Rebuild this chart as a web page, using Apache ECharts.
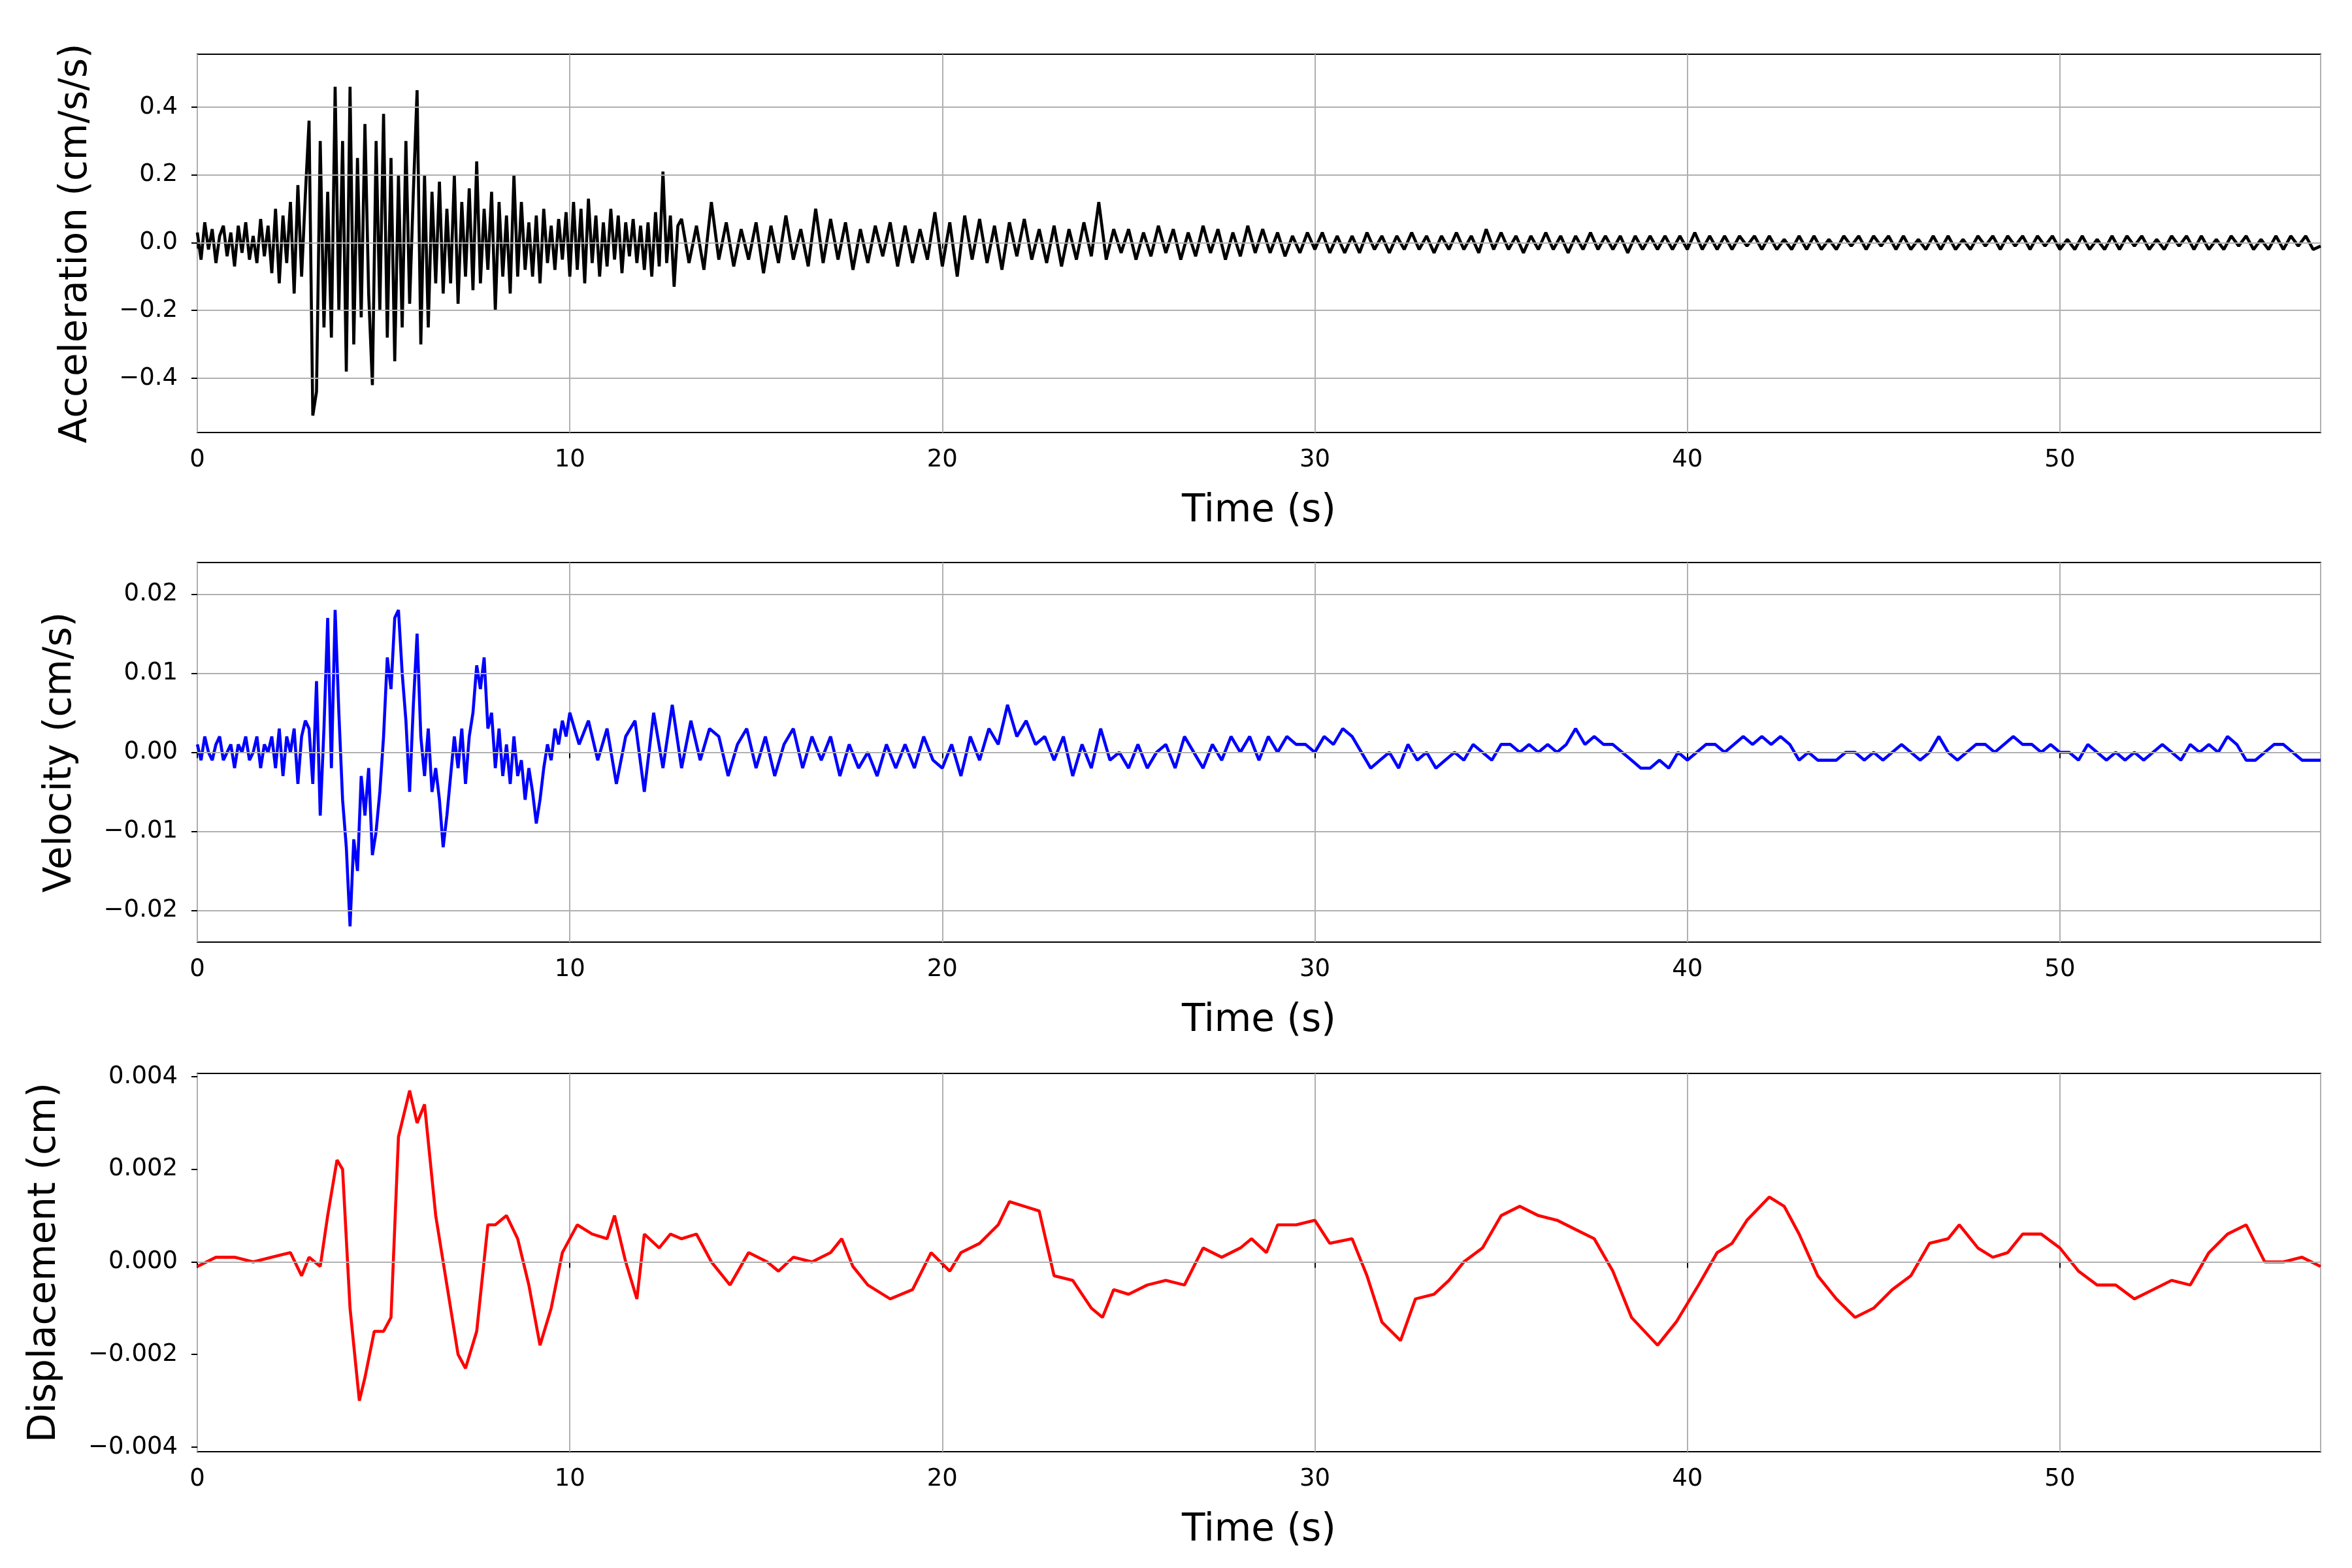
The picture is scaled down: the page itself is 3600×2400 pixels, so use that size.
<!DOCTYPE html>
<html><head><meta charset="utf-8">
<script src="https://cdn.jsdelivr.net/npm/echarts@6/dist/echarts.min.js"></script>
<style>html,body{margin:0;padding:0;background:#fff}#c{width:3600px;height:2400px}</style>
</head><body><div id="c"></div>
<script>
// Acceleration: 0-12.9 s step 0.1, then 13-57 s step 0.2
const accFine = [0.03,-0.05,0.06,-0.02,0.04,-0.06,0.02,0.05,-0.04,0.03,-0.07,0.05,-0.03,0.06,-0.05,0.02,-0.06,0.07,-0.04,0.05,
-0.09,0.1,-0.12,0.08,-0.06,0.12,-0.15,0.17,-0.1,0.14,
0.36,-0.51,-0.44,0.3,-0.25,0.15,-0.28,0.46,-0.2,0.3,
-0.38,0.46,-0.3,0.25,-0.22,0.35,-0.15,-0.42,0.3,-0.2,
0.38,-0.28,0.25,-0.35,0.2,-0.25,0.3,-0.18,0.15,0.45,
-0.3,0.2,-0.25,0.15,-0.12,0.18,-0.15,0.1,-0.12,0.2,
-0.18,0.12,-0.1,0.16,-0.14,0.24,-0.12,0.1,-0.08,0.15,
-0.2,0.12,-0.1,0.08,-0.15,0.2,-0.1,0.12,-0.08,0.06,
-0.1,0.08,-0.12,0.1,-0.06,0.05,-0.08,0.07,-0.05,0.09,
-0.1,0.12,-0.08,0.1,-0.12,0.13,-0.06,0.08,-0.1,0.06,
-0.07,0.1,-0.05,0.08,-0.09,0.06,-0.04,0.07,-0.06,0.05,
-0.08,0.06,-0.1,0.09,-0.07,0.21,-0.06,0.08,-0.13,0.05];
const accCoarse = [0.07,-0.06,0.05,-0.08,0.12,-0.05,0.06,-0.07,0.04,-0.05,
0.06,-0.09,0.05,-0.06,0.08,-0.05,0.04,-0.07,0.1,-0.06,
0.07,-0.05,0.06,-0.08,0.04,-0.06,0.05,-0.04,0.06,-0.07,
0.05,-0.06,0.04,-0.05,0.09,-0.07,0.06,-0.1,0.08,-0.05,
0.07,-0.06,0.05,-0.08,0.06,-0.04,0.07,-0.05,0.04,-0.06,
0.05,-0.07,0.04,-0.05,0.06,-0.04,0.12,-0.05,0.04,-0.03,
0.04,-0.05,0.03,-0.04,0.05,-0.03,0.04,-0.05,0.03,-0.04,
0.05,-0.03,0.04,-0.05,0.03,-0.04,0.05,-0.03,0.04,-0.03,
0.03,-0.04,0.02,-0.03,0.03,-0.02,0.03,-0.03,0.02,-0.03,
0.02,-0.03,0.03,-0.02,0.02,-0.03,0.02,-0.02,0.03,-0.02,
0.02,-0.03,0.02,-0.02,0.03,-0.02,0.02,-0.03,0.04,-0.02,
0.03,-0.02,0.02,-0.03,0.02,-0.02,0.03,-0.02,0.02,-0.03,
0.02,-0.02,0.03,-0.02,0.02,-0.02,0.02,-0.03,0.02,-0.02,
0.02,-0.02,0.02,-0.02,0.02,-0.02,0.03,-0.02,0.02,-0.02,
0.02,-0.02,0.02,-0.01,0.02,-0.02,0.02,-0.02,0.01,-0.02,
0.02,-0.02,0.02,-0.02,0.01,-0.02,0.02,-0.01,0.02,-0.02,
0.02,-0.01,0.02,-0.02,0.02,-0.02,0.01,-0.02,0.02,-0.02,
0.02,-0.02,0.01,-0.02,0.02,-0.01,0.02,-0.02,0.02,-0.01,
0.02,-0.02,0.02,-0.01,0.02,-0.02,0.01,-0.02,0.02,-0.02,
0.01,-0.02,0.02,-0.02,0.02,-0.01,0.02,-0.02,0.01,-0.02,
0.02,-0.01,0.02,-0.02,0.02,-0.02,0.01,-0.02,0.02,-0.01,
0.02,-0.02,0.01,-0.02,0.02,-0.02,0.02,-0.01,0.02,-0.02,
-0.01];
// Velocity: 0-9.9 s step 0.1, then 10-57 s step 0.25
const velFine = [0.001,-0.001,0.002,0,-0.001,0.001,0.002,-0.001,0,0.001,
-0.002,0.001,0,0.002,-0.001,0,0.002,-0.002,0.001,0,
0.002,-0.002,0.003,-0.003,0.002,0,0.003,-0.004,0.002,0.004,
0.003,-0.004,0.009,-0.008,0.003,0.017,-0.002,0.018,0.005,-0.006,
-0.012,-0.022,-0.011,-0.015,-0.003,-0.008,-0.002,-0.013,-0.01,-0.005,
0.002,0.012,0.008,0.017,0.018,0.01,0.004,-0.005,0.006,0.015,
0.002,-0.003,0.003,-0.005,-0.002,-0.006,-0.012,-0.008,-0.003,0.002,
-0.002,0.003,-0.004,0.002,0.005,0.011,0.008,0.012,0.003,0.005,
-0.002,0.003,-0.003,0.001,-0.004,0.002,-0.003,-0.001,-0.006,-0.002,
-0.005,-0.009,-0.006,-0.002,0.001,-0.001,0.003,0.001,0.004,0.002];
const velCoarse = [0.005,0.001,0.004,-0.001, 0.003,-0.004,0.002,0.004, -0.005,0.005,-0.002,0.006, -0.002,0.004,-0.001,0.003,
0.002,-0.003,0.001,0.003, -0.002,0.002,-0.003,0.001, 0.003,-0.002,0.002,-0.001, 0.002,-0.003,0.001,-0.002,
0,-0.003,0.001,-0.002, 0.001,-0.002,0.002,-0.001, -0.002,0.001,-0.003,0.002, -0.001,0.003,0.001,0.006,
0.002,0.004,0.001,0.002, -0.001,0.002,-0.003,0.001, -0.002,0.003,-0.001,0, -0.002,0.001,-0.002,0,
0.001,-0.002,0.002,0, -0.002,0.001,-0.001,0.002, 0,0.002,-0.001,0.002, 0,0.002,0.001,0.001,
0,0.002,0.001,0.003, 0.002,0,-0.002,-0.001, 0,-0.002,0.001,-0.001, 0,-0.002,-0.001,0,
-0.001,0.001,0,-0.001, 0.001,0.001,0,0.001, 0,0.001,0,0.001, 0.003,0.001,0.002,0.001,
0.001,0,-0.001,-0.002, -0.002,-0.001,-0.002,0, -0.001,0,0.001,0.001, 0,0.001,0.002,0.001,
0.002,0.001,0.002,0.001, -0.001,0,-0.001,-0.001, -0.001,0,0,-0.001, 0,-0.001,0,0.001,
0,-0.001,0,0.002, 0,-0.001,0,0.001, 0.001,0,0.001,0.002, 0.001,0.001,0,0.001,
0,0,-0.001,0.001, 0,-0.001,0,-0.001, 0,-0.001,0,0.001, 0,-0.001,0.001,0,
0.001,0,0.002,0.001, -0.001,-0.001,0,0.001, 0.001,0,-0.001,-0.001, -0.001];
// Displacement: times and values
const dispT = [0,0.5,1,1.5,2,2.5,2.8,3,3.3,3.5,3.75,3.9,4.1,4.35,4.5,4.75,5,5.2,5.4,5.7,5.9,6.1,6.4,6.7,7,7.2,7.5,7.8,8,8.3,8.6,8.9,9.2,9.5,9.8,10.2,10.6,11,11.2,11.5,11.8,12,12.4,12.7,13,13.4,13.8,14.3,14.8,15.3,15.6,16,16.5,17,17.3,17.6,18,18.6,19.2,19.7,20.2,20.5,21,21.5,21.8,22.2,22.6,23,23.5,24,24.3,24.6,25,25.5,26,26.5,27,27.5,28,28.3,28.7,29,29.5,30,30.4,31,31.4,31.8,32.3,32.7,33.2,33.6,34,34.5,35,35.5,36,36.5,37,37.5,38,38.5,39.2,39.7,40.3,40.8,41.2,41.6,42.2,42.6,43,43.5,44,44.5,45,45.5,46,46.5,47,47.3,47.8,48.2,48.6,49,49.5,50,50.5,51,51.5,52,52.5,53,53.5,54,54.5,55,55.5,56,56.5,57];
const dispV = [-0.0001,0.0001,0.0001,0,0.0001,0.0002,-0.0003,0.0001,-0.0001,0.001,0.0022,0.002,-0.001,-0.003,-0.0025,-0.0015,-0.0015,-0.0012,0.0027,0.0037,0.003,0.0034,0.001,-0.0005,-0.002,-0.0023,-0.0015,0.0008,0.0008,0.001,0.0005,-0.0005,-0.0018,-0.001,0.0002,0.0008,0.0006,0.0005,0.001,0,-0.0008,0.0006,0.0003,0.0006,0.0005,0.0006,0,-0.0005,0.0002,0,-0.0002,0.0001,0,0.0002,0.0005,-0.0001,-0.0005,-0.0008,-0.0006,0.0002,-0.0002,0.0002,0.0004,0.0008,0.0013,0.0012,0.0011,-0.0003,-0.0004,-0.001,-0.0012,-0.0006,-0.0007,-0.0005,-0.0004,-0.0005,0.0003,0.0001,0.0003,0.0005,0.0002,0.0008,0.0008,0.0009,0.0004,0.0005,-0.0003,-0.0013,-0.0017,-0.0008,-0.0007,-0.0004,0,0.0003,0.001,0.0012,0.001,0.0009,0.0007,0.0005,-0.0002,-0.0012,-0.0018,-0.0013,-0.0005,0.0002,0.0004,0.0009,0.0014,0.0012,0.0006,-0.0003,-0.0008,-0.0012,-0.001,-0.0006,-0.0003,0.0004,0.0005,0.0008,0.0003,0.0001,0.0002,0.0006,0.0006,0.0003,-0.0002,-0.0005,-0.0005,-0.0008,-0.0006,-0.0004,-0.0005,0.0002,0.0006,0.0008,0,0,0.0001,-0.0001];
const accTicks = [-0.4,-0.2,0,0.2,0.4];
const velTicks = [-0.02,-0.01,0,0.01,0.02];
const dispTicks = [-0.004,-0.002,0,0.002,0.004];

const accData = accFine.map((v,i)=>[+(i*0.1).toFixed(2),v]).concat(accCoarse.map((v,i)=>[+(13+i*0.2).toFixed(2),v]));
const velData = velFine.map((v,i)=>[+(i*0.1).toFixed(2),v]).concat(velCoarse.map((v,i)=>[+(10+i*0.25).toFixed(2),v]));
const dispData = dispT.map((t,i)=>[t,dispV[i]]);

const F='DejaVu Sans';
const grids=[{top:83,bottom:2400-662},{top:861,bottom:2400-1442},{top:1643,bottom:2400-2222}].map(g=>({left:302,right:48,top:g.top,bottom:g.bottom,show:true,borderColor:'#000',borderWidth:2,backgroundColor:'transparent'}));
const yNames=['Acceleration (cm/s/s)','Velocity (cm/s)','Displacement (cm)'];
const yGaps=[156,180,204];
const yRanges=[[-0.56,0.556],[-0.024,0.024],[-0.0041,0.00407]];
const ticks=[accTicks,velTicks,dispTicks];
const fmt=[v=>v.toFixed(1),v=>v.toFixed(2),v=>v.toFixed(3)];
const colors=['#000000','#0000ff','#ff0000'];
const datas=[accData,velData,dispData];
const xAxis=[0,1,2].map(i=>({type:'value',gridIndex:i,min:0,max:57,interval:10,name:'Time (s)',nameLocation:'middle',nameGap:92,
 nameTextStyle:{fontFamily:F,fontSize:58,color:'#000'},
 axisLine:{show:false},axisTick:{show:true,length:9,lineStyle:{color:'#000',width:2}},
 axisLabel:{fontFamily:F,fontSize:37,color:'#000',margin:24,showMaxLabel:false},
 splitLine:{show:true,lineStyle:{color:'#b0b0b0',width:2}}}));
const yAxis=[0,1,2].map(i=>({type:'value',gridIndex:i,min:yRanges[i][0],max:yRanges[i][1],name:yNames[i],nameLocation:'middle',nameGap:yGaps[i],
 nameTextStyle:{fontFamily:F,fontSize:58,color:'#000'},
 axisLine:{show:false},
 axisTick:{show:true,length:9,lineStyle:{color:'#000',width:2},customValues:ticks[i]},
 axisLabel:{fontFamily:F,fontSize:37,color:'#000',margin:30,customValues:ticks[i],formatter:v=>fmt[i](v).replace('-','\u2212')},
 splitLine:{show:false}}));
const series=[0,1,2].map(i=>({type:'line',xAxisIndex:i,yAxisIndex:i,data:datas[i],showSymbol:false,symbol:'none',
 lineStyle:{color:colors[i],width:4.6},animation:false,
 markLine:{silent:true,symbol:'none',label:{show:false},lineStyle:{color:'#b0b0b0',width:2,type:'solid'},data:ticks[i].map(v=>({yAxis:v}))},
 z:3}));
const chart=echarts.init(document.getElementById('c'),null,{renderer:'canvas'});
chart.setOption({backgroundColor:'#fff',animation:false,grid:grids,xAxis,yAxis,series});
</script></body></html>
